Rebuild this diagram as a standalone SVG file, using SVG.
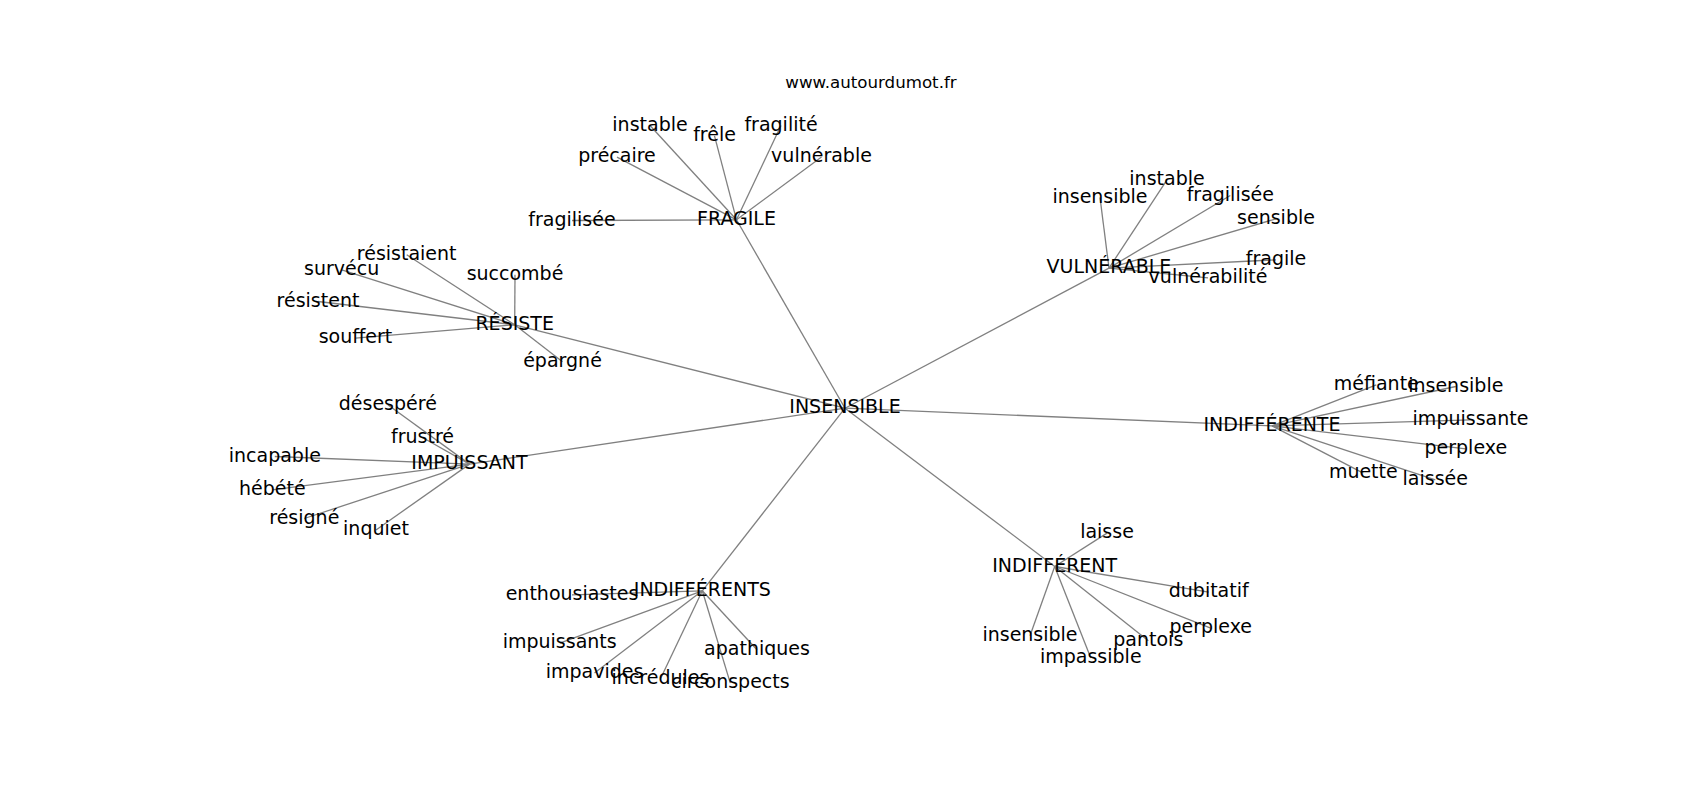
<svg xmlns="http://www.w3.org/2000/svg" width="1700" height="800" viewBox="0 0 1700 800">
<style>
.e{stroke:#808080;stroke-width:1.3;fill:none}
text{font-family:"DejaVu Sans",Verdana,sans-serif;font-size:19px;fill:#000;text-anchor:middle}
.t{font-size:16.67px}
</style>
<rect width="1700" height="800" fill="#fff"/>
<g id="connectors" class="e">
<line x1="845" y1="408.2" x2="736.5" y2="219.8"/>
<line x1="845" y1="408.2" x2="514.7" y2="324.8"/>
<line x1="845" y1="408.2" x2="1109" y2="268.1"/>
<line x1="845" y1="408.2" x2="469.5" y2="464.1"/>
<line x1="845" y1="408.2" x2="1272" y2="425.8"/>
<line x1="845" y1="408.2" x2="702.3" y2="590.8"/>
<line x1="845" y1="408.2" x2="1054.7" y2="566.5"/>
<line x1="736.5" y1="219.8" x2="650" y2="125.5"/>
<line x1="736.5" y1="219.8" x2="714.5" y2="135.8"/>
<line x1="736.5" y1="219.8" x2="781" y2="125.5"/>
<line x1="736.5" y1="219.8" x2="617" y2="157.1"/>
<line x1="736.5" y1="219.8" x2="821.5" y2="157.1"/>
<line x1="736.5" y1="219.8" x2="572" y2="220.5"/>
<line x1="514.7" y1="324.8" x2="406.7" y2="254.8"/>
<line x1="514.7" y1="324.8" x2="341.7" y2="269.8"/>
<line x1="514.7" y1="324.8" x2="515" y2="274.8"/>
<line x1="514.7" y1="324.8" x2="318" y2="301.5"/>
<line x1="514.7" y1="324.8" x2="355.5" y2="338.1"/>
<line x1="514.7" y1="324.8" x2="562.5" y2="361.8"/>
<line x1="1109" y1="268.1" x2="1167" y2="179.8"/>
<line x1="1109" y1="268.1" x2="1100" y2="197.5"/>
<line x1="1109" y1="268.1" x2="1230.3" y2="195.5"/>
<line x1="1109" y1="268.1" x2="1276" y2="218.8"/>
<line x1="1109" y1="268.1" x2="1276" y2="259.8"/>
<line x1="1109" y1="268.1" x2="1208" y2="277.8"/>
<line x1="469.5" y1="464.1" x2="387.8" y2="404.8"/>
<line x1="469.5" y1="464.1" x2="422.5" y2="437.5"/>
<line x1="469.5" y1="464.1" x2="274.8" y2="456.5"/>
<line x1="469.5" y1="464.1" x2="272.3" y2="489.8"/>
<line x1="469.5" y1="464.1" x2="304.3" y2="518.5"/>
<line x1="469.5" y1="464.1" x2="376" y2="530"/>
<line x1="1272" y1="425.8" x2="1376.3" y2="384.8"/>
<line x1="1272" y1="425.8" x2="1455.8" y2="386.5"/>
<line x1="1272" y1="425.8" x2="1470.5" y2="419.8"/>
<line x1="1272" y1="425.8" x2="1465.8" y2="448.8"/>
<line x1="1272" y1="425.8" x2="1363.3" y2="473.1"/>
<line x1="1272" y1="425.8" x2="1435.3" y2="479.8"/>
<line x1="702.3" y1="590.8" x2="572" y2="594.8"/>
<line x1="702.3" y1="590.8" x2="559.7" y2="643.1"/>
<line x1="702.3" y1="590.8" x2="757" y2="649.8"/>
<line x1="702.3" y1="590.8" x2="594.5" y2="673.1"/>
<line x1="702.3" y1="590.8" x2="660.5" y2="678.8"/>
<line x1="702.3" y1="590.8" x2="730.3" y2="683.1"/>
<line x1="1054.7" y1="566.5" x2="1107" y2="533.1"/>
<line x1="1054.7" y1="566.5" x2="1208.7" y2="592.1"/>
<line x1="1054.7" y1="566.5" x2="1210.7" y2="628.1"/>
<line x1="1054.7" y1="566.5" x2="1030" y2="635.8"/>
<line x1="1054.7" y1="566.5" x2="1148.3" y2="640.8"/>
<line x1="1054.7" y1="566.5" x2="1090.8" y2="658.1"/>
</g>
<g id="title"><text class="t" x="871" y="88.3">www.autourdumot.fr</text></g>
<g id="n-insensible"><text x="845" y="413.4">INSENSIBLE</text></g>
<g id="n-fragile"><text x="736.5" y="225">FRAGILE</text></g>
<g id="n-resiste"><text x="514.7" y="330">RÉSISTE</text></g>
<g id="n-vulnerable"><text x="1109" y="273.3">VULNÉRABLE</text></g>
<g id="n-impuissant"><text x="469.5" y="469.3">IMPUISSANT</text></g>
<g id="n-indifferente"><text x="1272" y="431">INDIFFÉRENTE</text></g>
<g id="n-indifferents"><text x="702.3" y="596">INDIFFÉRENTS</text></g>
<g id="n-indifferent"><text x="1054.7" y="571.7">INDIFFÉRENT</text></g>
<g id="f-instable"><text x="650" y="130.7">instable</text></g>
<g id="f-frele"><text x="714.5" y="141">frêle</text></g>
<g id="f-fragilite"><text x="781" y="130.7">fragilité</text></g>
<g id="f-precaire"><text x="617" y="162.3">précaire</text></g>
<g id="f-vulnerable"><text x="821.5" y="162.3">vulnérable</text></g>
<g id="f-fragilisee"><text x="572" y="225.7">fragilisée</text></g>
<g id="r-resistaient"><text x="406.7" y="260">résistaient</text></g>
<g id="r-survecu"><text x="341.7" y="275">survécu</text></g>
<g id="r-succombe"><text x="515" y="280">succombé</text></g>
<g id="r-resistent"><text x="318" y="306.7">résistent</text></g>
<g id="r-souffert"><text x="355.5" y="343.3">souffert</text></g>
<g id="r-epargne"><text x="562.5" y="367">épargné</text></g>
<g id="v-instable"><text x="1167" y="185">instable</text></g>
<g id="v-insensible"><text x="1100" y="202.7">insensible</text></g>
<g id="v-fragilisee"><text x="1230.3" y="200.7">fragilisée</text></g>
<g id="v-sensible"><text x="1276" y="224">sensible</text></g>
<g id="v-fragile"><text x="1276" y="265">fragile</text></g>
<g id="v-vulnerabilite"><text x="1208" y="283">vulnérabilité</text></g>
<g id="i-desespere"><text x="387.8" y="410">désespéré</text></g>
<g id="i-frustre"><text x="422.5" y="442.7">frustré</text></g>
<g id="i-incapable"><text x="274.8" y="461.7">incapable</text></g>
<g id="i-hebete"><text x="272.3" y="495">hébété</text></g>
<g id="i-resigne"><text x="304.3" y="523.7">résigné</text></g>
<g id="i-inquiet"><text x="376" y="535.2">inquiet</text></g>
<g id="e-mefiante"><text x="1376.3" y="390">méfiante</text></g>
<g id="e-insensible"><text x="1455.8" y="391.7">insensible</text></g>
<g id="e-impuissante"><text x="1470.5" y="425">impuissante</text></g>
<g id="e-perplexe"><text x="1465.8" y="454">perplexe</text></g>
<g id="e-muette"><text x="1363.3" y="478.3">muette</text></g>
<g id="e-laissee"><text x="1435.3" y="485">laissée</text></g>
<g id="s-enthousiastes"><text x="572" y="600">enthousiastes</text></g>
<g id="s-impuissants"><text x="559.7" y="648.3">impuissants</text></g>
<g id="s-apathiques"><text x="757" y="655">apathiques</text></g>
<g id="s-impavides"><text x="594.5" y="678.3">impavides</text></g>
<g id="s-incredules"><text x="660.5" y="684">incrédules</text></g>
<g id="s-circonspects"><text x="730.3" y="688.3">circonspects</text></g>
<g id="t-laisse"><text x="1107" y="538.3">laisse</text></g>
<g id="t-dubitatif"><text x="1208.7" y="597.3">dubitatif</text></g>
<g id="t-perplexe"><text x="1210.7" y="633.3">perplexe</text></g>
<g id="t-insensible"><text x="1030" y="641">insensible</text></g>
<g id="t-pantois"><text x="1148.3" y="646">pantois</text></g>
<g id="t-impassible"><text x="1090.8" y="663.3">impassible</text></g>
</svg>
